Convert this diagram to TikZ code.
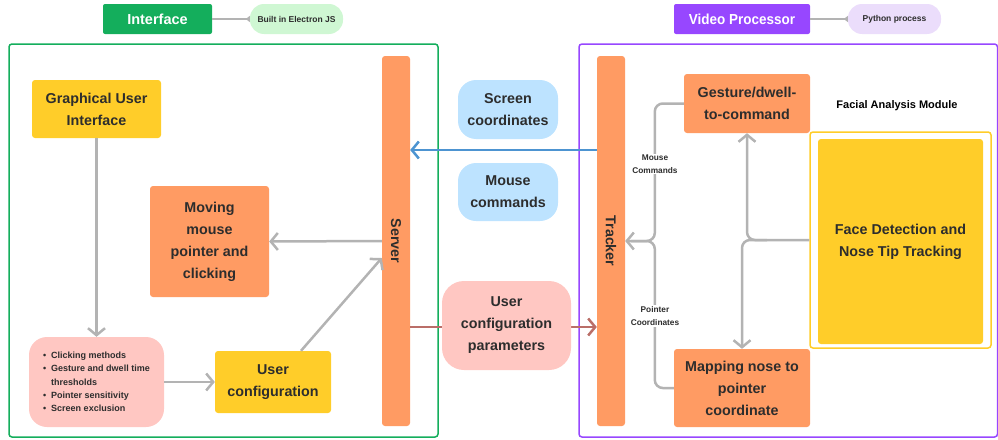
\documentclass[tikz,border=0pt]{standalone}
\usepackage{fontspec}
\setmainfont{Liberation Sans}
\usetikzlibrary{arrows.meta,calc}
\definecolor{cOrange}{HTML}{FF9B63}
\definecolor{cYellow}{HTML}{FFCD29}
\definecolor{cPink}{HTML}{FFC7C2}
\definecolor{cBlue}{HTML}{BDE3FF}
\definecolor{cGreen}{HTML}{14AE5C}
\definecolor{cLGreen}{HTML}{CFF7D3}
\definecolor{cPurple}{HTML}{9747FF}
\definecolor{cLPurple}{HTML}{EBDDFB}
\definecolor{cGray}{HTML}{B3B3B3}
\definecolor{cArrowBlue}{HTML}{4D94D1}
\definecolor{cBrown}{HTML}{BA6E68}
\definecolor{cText}{HTML}{2D2D2D}
\begin{document}
\begin{tikzpicture}[x=1pt,y=-1pt,
  box/.style={rectangle, rounded corners=3pt, inner sep=2pt, align=center,
    font=\bfseries\fontsize{14.3}{22}\selectfont, text=cText},
  orangebox/.style={box, fill=cOrange},
  yellowbox/.style={box, fill=cYellow},
  pill/.style={box, rounded corners=18pt},
  hdr/.style={rectangle, rounded corners=2pt, text=white, font=\bfseries\fontsize{14.5}{17}\selectfont, minimum height=30pt},
  tag/.style={rectangle, rounded corners=14pt, text=cText, font=\bfseries\fontsize{8.5}{10}\selectfont, minimum height=30pt, minimum width=93pt},
  gline/.style={draw=cGray, line width=2.5pt},
  barb/.style={-{Straight Barb[length=7pt,width=17pt]}},
  small/.style={font=\bfseries\fontsize{8.3}{13}\selectfont, text=cText, align=center, fill=white, inner sep=1pt},
  vlabel/.style={rotate=-90, font=\bfseries\fontsize{14.3}{17}\selectfont, text=cText}
]
\useasboundingbox (0,0) rectangle (998,439);

% headers
\node[hdr, fill=cGreen, minimum width=109pt] (hdrI) at (157.5,19) {Interface};
\node[tag, fill=cLGreen] (pillE) at (296.5,19) {Built in Electron JS};
\draw[draw=cGray, line width=1.2pt, -{Triangle[reversed,length=4pt,width=6pt]}, color=cGray] (hdrI.east) -- (pillE.west);
\node[hdr, fill=cPurple, minimum width=136pt] (hdrV) at (742,19) {\scalebox{0.93}[1]{Video Processor}};
\node[tag, fill=cLPurple] (pillP) at (894.5,19) {Python process};
\draw[draw=cGray, line width=1.2pt, -{Triangle[reversed,length=4pt,width=6pt]}, color=cGray] (hdrV.east) -- (pillP.west);

% frames
\draw[cGreen, line width=1.5pt, rounded corners=3pt] (9,44) rectangle (438,437);
\draw[cPurple, line width=1.5pt, rounded corners=3pt] (579,44) rectangle (997.5,437);

% bars
\node[orangebox, minimum width=28pt, minimum height=370pt] (server) at (396,241) {};
\node[vlabel] at (server.center) {Server};
\node[orangebox, minimum width=28pt, minimum height=370pt] (tracker) at (611,241) {};
\node[vlabel] at (tracker.center) {Tracker};

% left side
\node[yellowbox, minimum width=129pt, minimum height=58pt] (gui) at (96.5,109) {Graphical User\\Interface};
\node[orangebox, minimum width=119pt, minimum height=111pt] (moving) at (209.5,241.5) {Moving\\mouse\\pointer and\\clicking};
\node[pill, fill=cPink, minimum width=135pt, minimum height=90pt, align=left,
  font=\bfseries\fontsize{9}{13.3}\selectfont] (bul) at (96.5,382)
  {\makebox[8pt][l]{\textbullet}Clicking methods\\
   \makebox[8pt][l]{\textbullet}Gesture and dwell time\\
   \makebox[8pt][l]{}thresholds\\
   \makebox[8pt][l]{\textbullet}Pointer sensitivity\\
   \makebox[8pt][l]{\textbullet}Screen exclusion};
\node[yellowbox, minimum width=116pt, minimum height=62pt] (ucfg) at (273,382) {User\\configuration};

\draw[gline, barb] (gui.south) -- (bul.north);
\draw[gline, barb] (bul.east) -- (ucfg.west);
\draw[gline, barb] ([xshift=28pt]ucfg.north) -- ([yshift=-17pt]server.west);
\draw[gline, barb] (server.west) -- (moving.east);

% middle
\draw[draw=cBrown, line width=2.5pt, barb] ([yshift=-86pt]server.east) -- ([yshift=-86pt]tracker.west);
\node[pill, fill=cBlue, minimum width=100pt, minimum height=59pt] (scr) at (508,109.5) {Screen\\coordinates};
\node[pill, fill=cBlue, minimum width=100pt, minimum height=58pt] (mcmd) at (508,192) {Mouse\\commands};
\node[pill, fill=cPink, minimum width=129pt, minimum height=89pt, rounded corners=22pt] (ucp) at (506.5,325.5) {User\\configuration\\parameters};
\draw[draw=cArrowBlue, line width=2.5pt, barb] ([yshift=91pt]tracker.west) -- ([yshift=91pt]server.east);

% right side
\node[orangebox, minimum width=126pt, minimum height=59pt] (gest) at (747,103.5) {Gesture/dwell-\\to-command};
\node[orangebox, minimum width=136pt, minimum height=78pt] (mapn) at (742,388) {Mapping nose to\\pointer\\coordinate};
\node[font=\bfseries\fontsize{11}{13}\selectfont, text=black] (fam) at (897,106) {Facial Analysis Module};
\node[draw=cYellow, line width=1.5pt, rounded corners=3pt, minimum width=181pt, minimum height=216pt] (fframe) at (900.5,240) {};
\node[yellowbox, minimum width=165pt, minimum height=205pt] (face) at (900.5,241.5) {Face Detection and\\Nose Tip Tracking};

\draw[gline, barb, rounded corners=8pt] (fframe.west) -| (gest.south);
\draw[gline, barb, rounded corners=8pt] ([xshift=20pt]gest.south |- fframe.west) -| (mapn.north);

\draw[gline, barb, rounded corners=8pt] (gest.west) -- ++(-29,0) |- (tracker.east);
\draw[gline, rounded corners=8pt] (mapn.west) -- ++(-19,0) |- ([xshift=6pt]tracker.east);
\node[small] (lm) at (655,164) {Mouse\\Commands};
\node[small] (lp) at (655,316) {Pointer\\Coordinates};
\end{tikzpicture}
\end{document}
